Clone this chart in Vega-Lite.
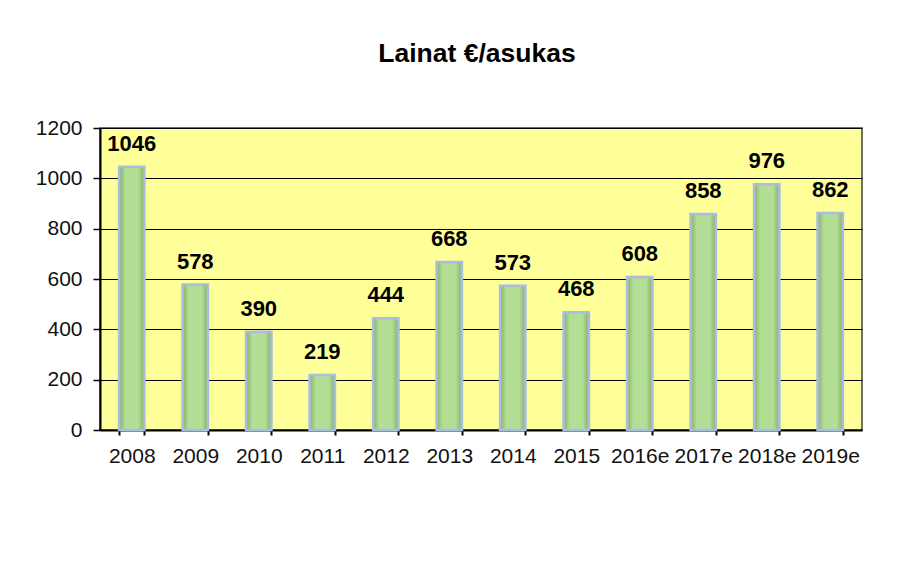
{
  "$schema": "https://vega.github.io/schema/vega-lite/v6.json",
  "width": 762,
  "height": 302,
  "autosize": {"type": "none"},
  "padding": {"left": 100, "top": 128, "right": 55, "bottom": 142},
  "background": "white",
  "title": {
    "text": "Lainat €/asukas",
    "font": "Liberation Sans",
    "fontSize": 26.5,
    "fontWeight": "bold",
    "color": "black",
    "offset": 50,
    "dx": -4
  },
  "config": {
    "view": {"fill": "#FFFF99", "stroke": "#404040", "strokeWidth": 1.5},
    "font": "Liberation Sans"
  },
  "data": {
    "values": [
      {"year": "2008", "value": 1046},
      {"year": "2009", "value": 578},
      {"year": "2010", "value": 390},
      {"year": "2011", "value": 219},
      {"year": "2012", "value": 444},
      {"year": "2013", "value": 668},
      {"year": "2014", "value": 573},
      {"year": "2015", "value": 468},
      {"year": "2016e", "value": 608},
      {"year": "2017e", "value": 858},
      {"year": "2018e", "value": 976},
      {"year": "2019e", "value": 862}
    ]
  },
  "encoding": {
    "x": {
      "field": "year",
      "type": "nominal",
      "sort": null,
      "title": null,
      "scale": {"paddingInner": 0.6, "paddingOuter": 0.3},
      "axis": {
        "labelAngle": 0,
        "labelFont": "Liberation Sans",
        "labelFontSize": 21,
        "labelColor": "#111111",
        "labelPadding": 10,
        "tickSize": 5,
        "tickColor": "black",
        "tickWidth": 2,
        "tickBand": "extent",
        "domainColor": "black",
        "domainWidth": 2,
        "grid": false
      }
    },
    "y": {
      "field": "value",
      "type": "quantitative",
      "title": null,
      "scale": {"domain": [0, 1200], "nice": false},
      "axis": {
        "values": [0, 200, 400, 600, 800, 1000, 1200],
        "format": "d",
        "labelFont": "Liberation Sans",
        "labelFontSize": 21,
        "labelColor": "#111111",
        "labelPadding": 11,
        "tickSize": 7,
        "tickColor": "black",
        "tickWidth": 1.5,
        "domainColor": "black",
        "domainWidth": 2,
        "grid": true,
        "gridColor": "black",
        "gridWidth": 1,
        "gridOpacity": 1
      }
    }
  },
  "layer": [
    {
      "mark": {
        "type": "bar",
        "stroke": "#A9BEDF",
        "strokeWidth": 2.5,
        "color": {
          "gradient": "linear",
          "x1": 0, "y1": 0, "x2": 1, "y2": 0,
          "stops": [
            {"offset": 0, "color": "#86AE6A"},
            {"offset": 0.25, "color": "#B3DE95"},
            {"offset": 0.75, "color": "#B3DE95"},
            {"offset": 1, "color": "#86AE6A"}
          ]
        }
      },
      "encoding": {"y": {"field": "value", "type": "quantitative"}}
    },
    {
      "mark": {
        "type": "text",
        "font": "Liberation Sans",
        "fontSize": 22,
        "fontWeight": "bold",
        "color": "black",
        "baseline": "alphabetic",
        "dy": -16
      },
      "encoding": {"text": {"field": "value", "type": "quantitative"}}
    }
  ]
}
